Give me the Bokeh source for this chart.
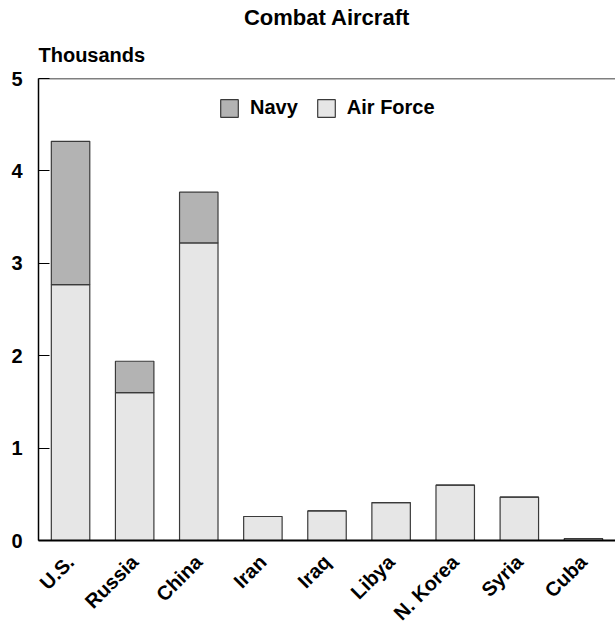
import math

from bokeh.embed import file_html
from bokeh.models import (ColumnDataSource, FactorRange, FixedTicker, Legend,
                          LegendItem, Range1d, Span, Title)
from bokeh.plotting import figure
from bokeh.resources import INLINE

# Combat aircraft inventory, thousands
countries = ["U.S.", "Russia", "China", "Iran", "Iraq", "Libya", "N. Korea", "Syria", "Cuba"]
air_force = [2.77, 1.60, 3.22, 0.26, 0.32, 0.41, 0.60, 0.47, 0.02]
navy = [1.55, 0.34, 0.55, 0.0, 0.0, 0.0, 0.0, 0.0, 0.0]
y_ticks = [0, 1, 2, 3, 4, 5]

FONT = "Liberation Sans"

source = ColumnDataSource(dict(country=countries, air_force=air_force, navy=navy))

p = figure(
    width=615, height=635,
    x_range=FactorRange(factors=countries, range_padding=0),
    y_range=Range1d(0, 5),
    output_backend="svg", toolbar_location=None,
    title_location=None,
    min_border_left=38, min_border_right=0, min_border_top=78, min_border_bottom=95,
    background_fill_color="white", border_fill_color="white",
    outline_line_color=None,
)

p.add_layout(Title(text="Thousands", align="left", text_font=FONT, text_color="black",
                   text_font_size="20px", text_font_style="bold", standoff=25), "above")
p.add_layout(Title(text="Combat Aircraft", align="center", text_font=FONT, text_color="black",
                   text_font_size="22px", text_font_style="bold", standoff=0), "above")

bars = p.vbar_stack(
    ["air_force", "navy"], x="country", width=0.6, source=source,
    fill_color=["#e6e6e6", "#b3b3b3"], line_color="#3a3a3a", line_width=1.2,
)

legend = Legend(
    items=[LegendItem(label="Navy", renderers=[bars[1]]),
           LegendItem(label="Air Force", renderers=[bars[0]])],
    orientation="horizontal", location=(180, 421),
    border_line_color=None, background_fill_alpha=0,
    padding=0, margin=0, spacing=17,
    glyph_width=22, glyph_height=22, label_standoff=10, label_height=22,
    label_text_font=FONT, label_text_font_size="20px", label_text_font_style="bold",
    label_text_color="black",
)
p.add_layout(legend, "center")

# top border of the plot area
p.add_layout(Span(location=5, dimension="width", line_color="black", line_width=1.5))

p.xgrid.grid_line_color = None
p.ygrid.grid_line_color = None

p.yaxis.ticker = FixedTicker(ticks=y_ticks)
p.yaxis.major_tick_in = 11
p.yaxis.major_tick_out = 0
p.yaxis.minor_tick_line_color = None
p.yaxis.major_tick_line_color = "black"
p.yaxis.axis_line_width = 1.5
p.yaxis.axis_line_color = "black"
p.yaxis.major_label_standoff = 16
p.yaxis.major_label_text_font = FONT
p.yaxis.major_label_text_font_size = "20px"
p.yaxis.major_label_text_font_style = "bold"
p.yaxis.major_label_text_color = "black"

p.xaxis.major_tick_line_color = None
p.xaxis.minor_tick_line_color = None
p.xaxis.axis_line_width = 2
p.xaxis.axis_line_color = "black"
p.xaxis.major_label_orientation = math.pi / 4
p.xaxis.major_label_standoff = 12
p.xaxis.major_label_text_font = FONT
p.xaxis.major_label_text_font_size = "20px"
p.xaxis.major_label_text_font_style = "bold"
p.xaxis.major_label_text_color = "black"

open("out.html", "w").write(file_html(p, INLINE))
